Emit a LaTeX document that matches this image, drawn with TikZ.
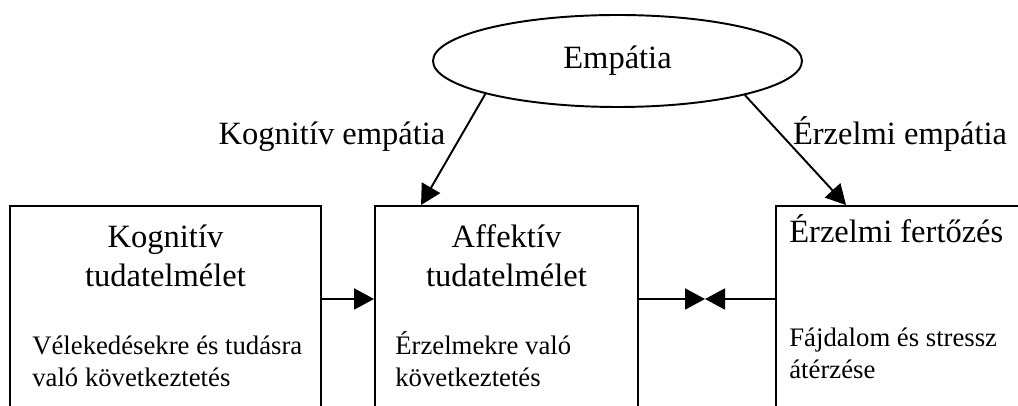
\documentclass[tikz,border=0pt]{standalone}
\usepackage{fontspec}
\setmainfont{Liberation Serif}
\usetikzlibrary{arrows.meta,positioning,shapes.geometric}
\newcommand{\headfont}{\fontsize{18.5}{22.2}\selectfont}
\newcommand{\notefont}{\fontsize{15.2}{18.3}\selectfont}
\tikzset{
  theory/.style={draw=black, line width=1.1pt, inner sep=0pt,
                 minimum height=4.5cm},
  bubble/.style={ellipse, draw=black, line width=1.1pt, inner sep=0pt,
                 minimum width=7.38cm, minimum height=1.84cm, font=\headfont},
  head/.style={font=\headfont, align=center, inner sep=0pt},
  note/.style={font=\notefont, align=left, inner sep=0pt, anchor=base west},
  tag/.style={font=\headfont, inner sep=0pt, anchor=base},
  arrow/.style={-{Triangle[length=0.40cm, width=0.42cm]}, line width=1.1pt, draw=black}
}

\begin{document}
\begin{tikzpicture}[x=1cm,y=1cm]
    \useasboundingbox (0,0) rectangle (20.36,8.12);
    \clip (0,0) rectangle (20.36,8.12);

    % Top concept
    \node[bubble] (emp) at (12.35,6.90) {\raisebox{0.08cm}{Empátia}};

    % Three boxes, open at the bottom of the page
    \node[theory, minimum width=6.22cm] (kog) at (3.31,1.75) {};
    \node[theory, minimum width=5.26cm] (aff) at (10.13,1.75) {};
    \node[theory, minimum width=5.48cm] (erz) at (18.26,1.75) {};

    \node[head, anchor=base] (kogt) at (3.31,2.38) {Kognitív\\tudatelmélet};
    \node[note] (kogn) at (0.64,0.38) {Vélekedésekre és tudásra\\való következtetés};

    \node[head, anchor=base] (afft) at (10.13,2.38) {Affektív\\tudatelmélet};
    \node[note] (affn) at (7.90,0.38) {Érzelmekre való\\következtetés};

    \node[head, anchor=base west] (erzt) at (15.78,3.26) {Érzelmi fertőzés};
    \node[note] (erzn) at (15.78,0.54) {Fájdalom és stressz\\átérzése};

    % Branches from the top
    \draw[arrow] (emp.194) -- ([xshift=0.94cm]aff.north west);
    \draw[arrow] (emp.-15) -- ([xshift=1.42cm]erz.north west);
    \node[tag] (kogl) at (6.64,5.22) {Kognitív empátia};
    \node[tag] (erzl) at (18.00,5.22) {Érzelmi empátia};

    % Links between the boxes
    \coordinate (row) at (0,2.14);
    \coordinate (meet) at (14.10,2.14);
    \draw[arrow] (kog.east |- row) -- (aff.west |- row);
    \draw[arrow] (aff.east |- meet) -- (meet);
    \draw[arrow] (erz.west |- meet) -- (meet);
\end{tikzpicture}
\end{document}
